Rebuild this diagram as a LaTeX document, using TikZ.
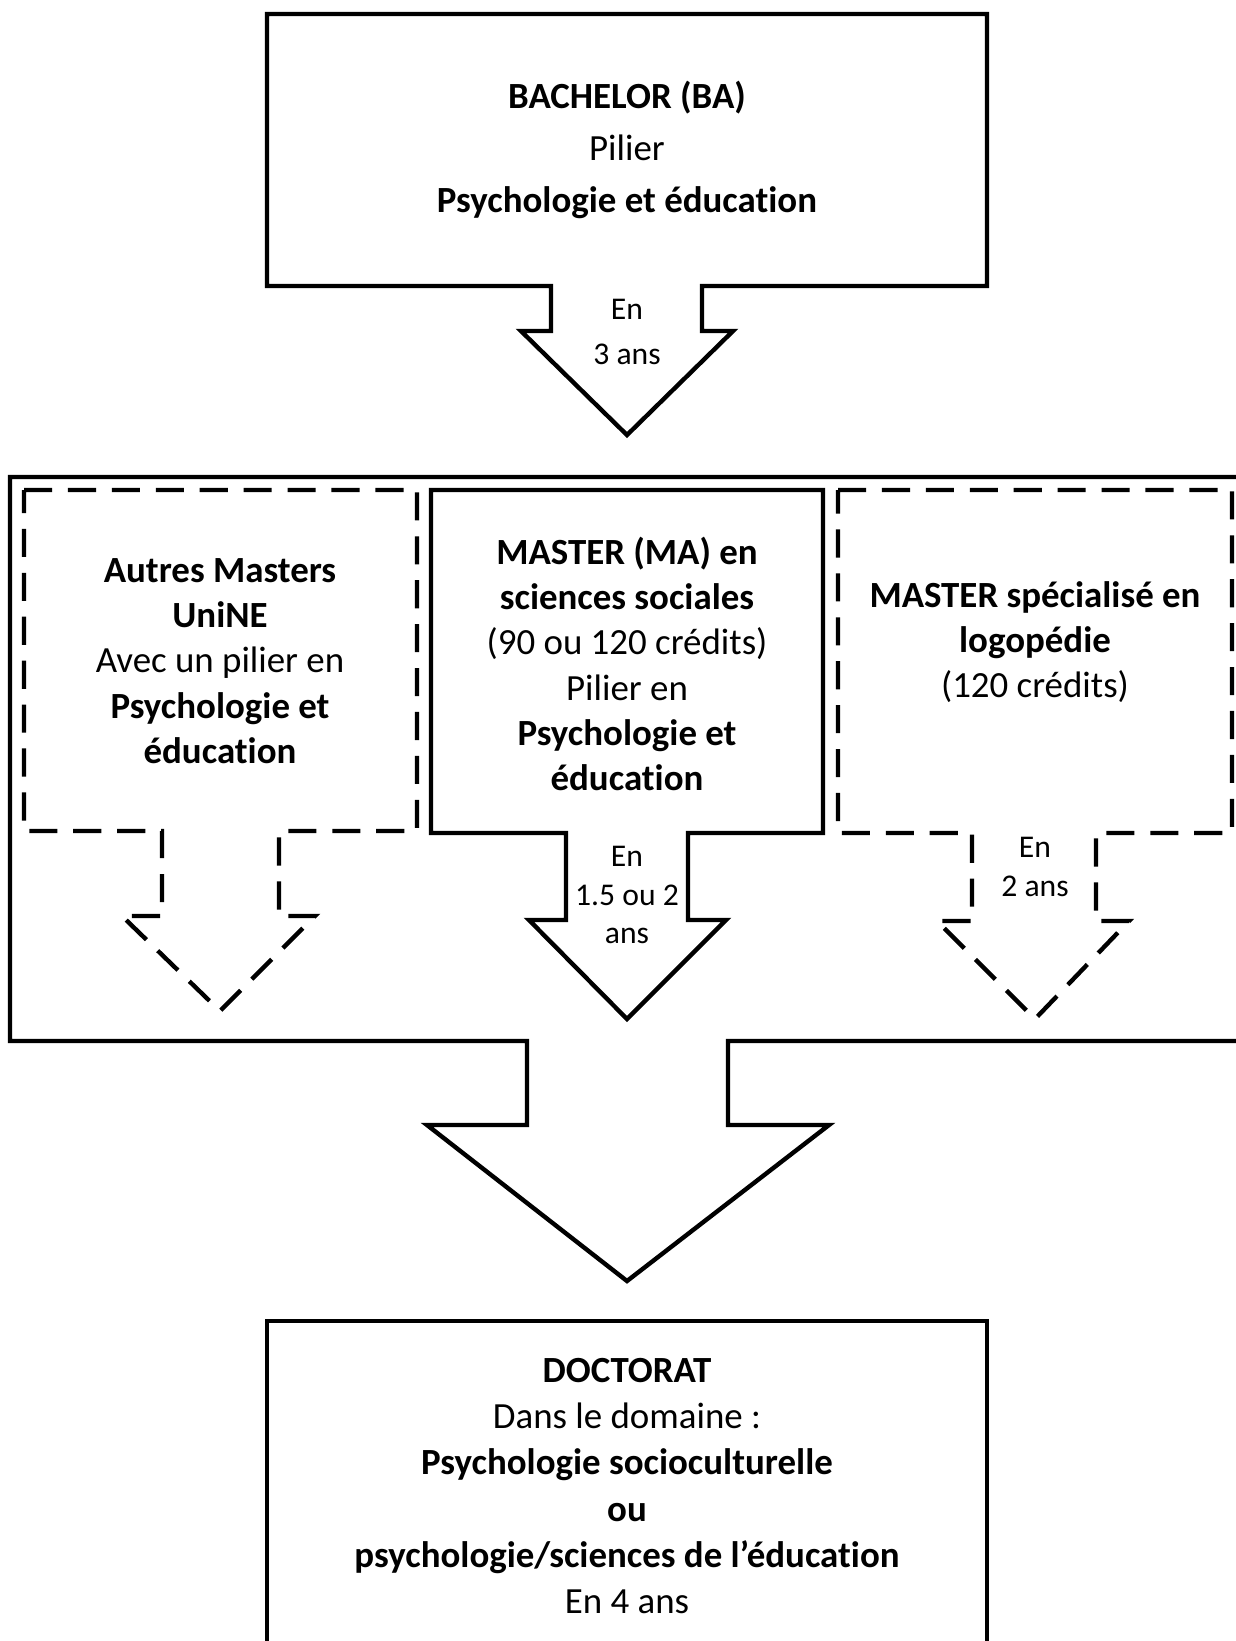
\documentclass[tikz,border=0pt]{standalone}
\usepackage{fontspec}
\setmainfont{Carlito}[Ligatures=NoCommon]
\usepackage{tikz}

\begin{document}
\begin{tikzpicture}[x=0.02cm, y=-0.02cm,
    blockarrow/.style={draw, line width=2.5pt, line join=miter, fill=white},
    dashedarrow/.style={blockarrow, dash pattern=on 16pt off 9pt},
    boxtext/.style={align=center, inner sep=0pt, font=\fontsize{21}{25.8}\selectfont},
    arrowtext/.style={align=center, inner sep=0pt, font=\fontsize{18}{22}\selectfont}]
    \useasboundingbox (0,0) rectangle (1236,1641);
    \clip (0,0) rectangle (1236,1641);
    % Outer frame with the big arrow
    \draw[blockarrow] (10,477) -- (1250,477) -- (1250,1041) -- (728,1041) -- (728,1125)
        -- (829,1125) -- (627,1281) -- (427,1125) -- (527,1125) -- (527,1041)
        -- (10,1041) -- cycle;
    % Bachelor
    \draw[blockarrow] (267,14) -- (987,14) -- (987,286) -- (702,286) -- (702,331)
        -- (733,331) -- (627,435) -- (521,331) -- (551,331) -- (551,286)
        -- (267,286) -- cycle;
    % Masters
    \draw[dashedarrow] (24,490) -- (417,490) -- (417,831) -- (279,831) -- (279,916)
        -- (315,916) -- (220,1011) -- (122,916) -- (162,916) -- (162,831)
        -- (24,831) -- cycle;
    \draw[blockarrow] (431,490) -- (823,490) -- (823,833) -- (688,833) -- (688,920)
        -- (726,920) -- (627,1019) -- (529,920) -- (566,920) -- (566,833)
        -- (431,833) -- cycle;
    \draw[dashedarrow] (838,490) -- (1232,490) -- (1232,833) -- (1096,833) -- (1096,921)
        -- (1129,921) -- (1035,1019) -- (937,921) -- (972,921) -- (972,833)
        -- (838,833) -- cycle;
    % Doctorat
    \draw[blockarrow] (267,1321) rectangle (987,1680);
    % Texts
    \node[boxtext, font=\fontsize{21}{29.4}\selectfont] (bachelor) at (627,150)
        {\textbf{BACHELOR (BA)}\\Pilier\\\textbf{Psychologie et éducation}};
    \node[arrowtext, font=\fontsize{18}{25.6}\selectfont] (en3) at (627,332) {En\\3 ans};
    \node[boxtext] (autres) at (220,661)
        {\textbf{Autres Masters}\\\textbf{UniNE}\\Avec un pilier en\\\textbf{Psychologie et}\\\textbf{éducation}};
    \node[boxtext] (master) at (627,664)
        {\textbf{MASTER (MA) en}\\\textbf{sciences sociales}\\(90 ou 120 crédits)\\Pilier en\\\textbf{Psychologie et}\\\textbf{éducation}};
    \node[arrowtext] (en15) at (627,895) {En\\1.5 ou 2\\ans};
    \node[boxtext] (logo) at (1035,642)
        {\textbf{MASTER spécialisé en}\\\textbf{logopédie}\\(120 crédits)};
    \node[arrowtext] (en2) at (1035,867) {En\\2 ans};
    \node[boxtext, font=\fontsize{21}{26.2}\selectfont] (doctorat) at (627,1486)
        {\textbf{DOCTORAT}\\Dans le domaine :\\\textbf{Psychologie socioculturelle}\\\textbf{ou}\\\textbf{psychologie/sciences de l’éducation}\\En 4 ans};
\end{tikzpicture}
\end{document}
